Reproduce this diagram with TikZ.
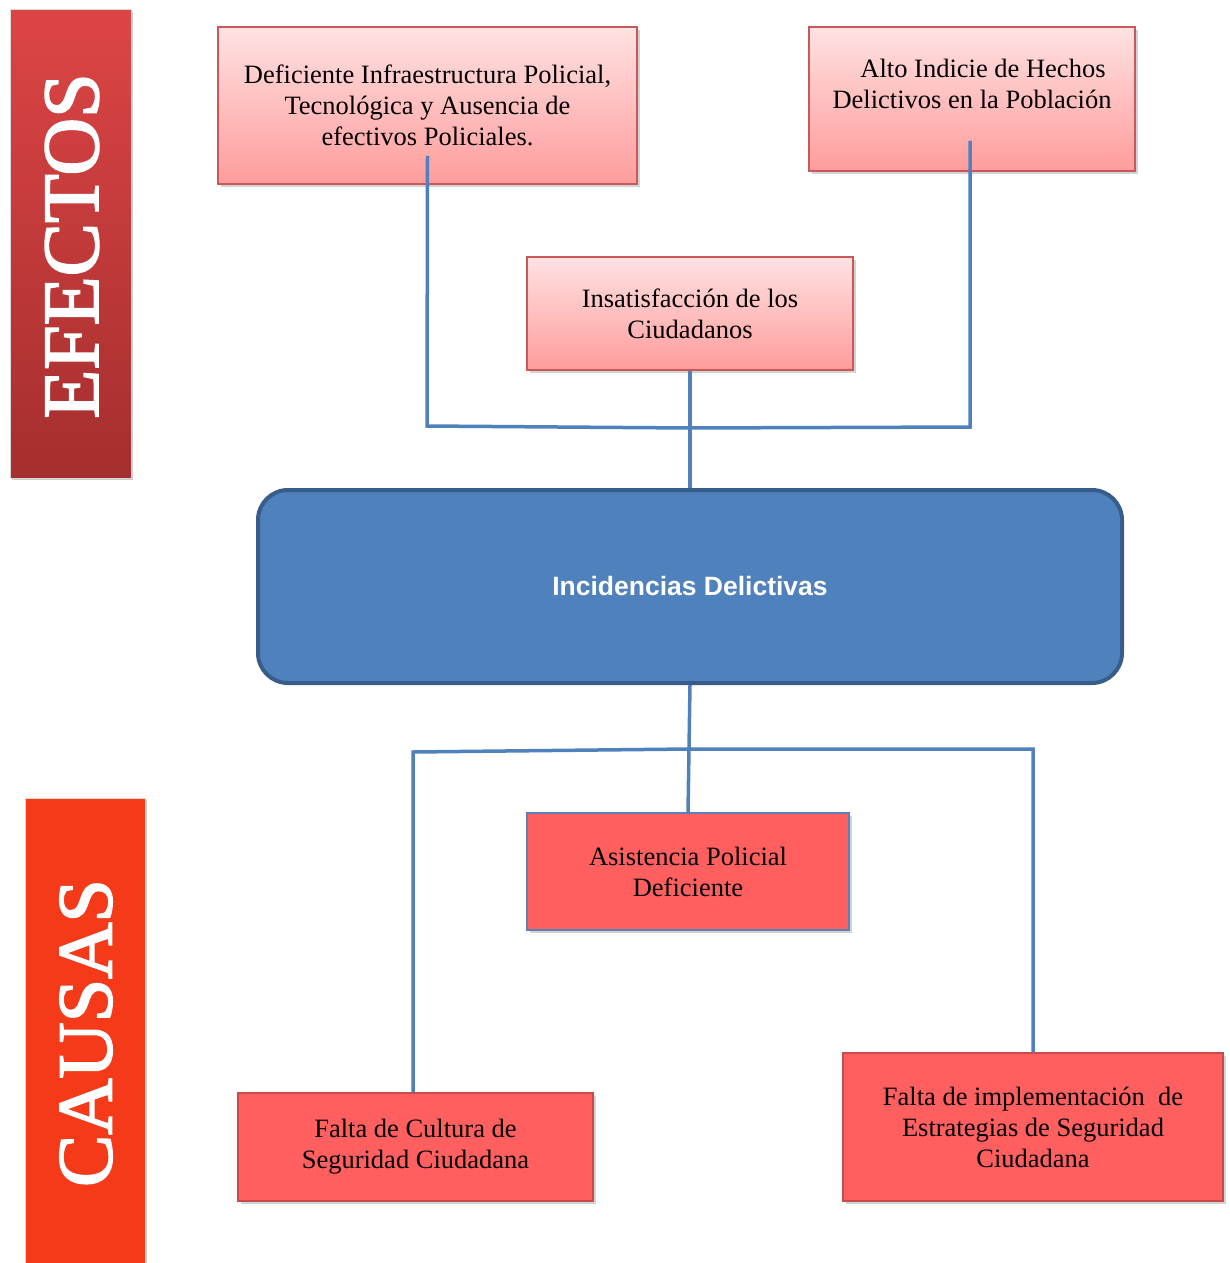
\documentclass[tikz,border=0pt]{standalone}
\usepackage{fontspec}
\setmainfont{Liberation Serif}
\newfontfamily\arialf{Liberation Sans}
\newfontfamily\barfont[FakeBold=2.2]{Liberation Serif}
\usetikzlibrary{shadows,calc}
\definecolor{lnblue}{HTML}{4F81BD}
\definecolor{mainborder}{HTML}{385D8A}
\definecolor{pinktop}{HTML}{FFE2E2}
\definecolor{pinkbot}{HTML}{FF9C9C}
\definecolor{pinkborder}{HTML}{C9585A}
\definecolor{redfill}{HTML}{FF5F5F}
\definecolor{redborder}{HTML}{C64C4C}
\definecolor{efectop}{HTML}{DD4545}
\definecolor{efecbot}{HTML}{A52E2E}
\definecolor{causafill}{HTML}{F43A18}
\tikzset{
  conn/.style={draw=lnblue, line width=3.5pt},
  efbox/.style={rectangle, draw=pinkborder, line width=1.5pt, top color=pinktop, bottom color=pinkbot,
    align=center, font=\fontsize{26.5}{31}\selectfont, inner sep=0pt,
    drop shadow={shadow xshift=3pt, shadow yshift=-3pt, opacity=0.35}},
  cabox/.style={rectangle, draw=redborder, line width=1.5pt, fill=redfill,
    align=center, font=\fontsize{26.5}{31}\selectfont, inner sep=0pt,
    drop shadow={shadow xshift=3pt, shadow yshift=-3pt, opacity=0.35}},
  barbox/.style={rectangle, inner sep=0pt, draw=white!70!gray, line width=1pt,
    drop shadow={shadow xshift=2pt, shadow yshift=-2pt, opacity=0.4}},
  bartext/.style={rotate=90, text=white, font=\barfont\fontsize{80}{80}\selectfont, inner sep=0pt}
}
\begin{document}
\begin{tikzpicture}[x=1pt,y=-1pt]
\useasboundingbox (0,0) rectangle (1229,1263);
% side bars
\node[barbox, top color=efectop, bottom color=efecbot, minimum width=121pt, minimum height=468pt] (efbar) at (70.5,244) {};
\node[bartext] (eftext) at (72,246) {EFECTOS};
\node[barbox, fill=causafill, minimum width=120pt, minimum height=470pt] (cabar) at (85,1033) {};
\node[bartext, font=\barfont\fontsize{78}{78}\selectfont] (catext) at (86,1033) {CAUSAS};
% effect boxes
\node[efbox, minimum width=419pt, minimum height=157pt] (b1) at (427.5,105.5)
  {Deficiente Infraestructura Policial,\\Tecnológica y Ausencia de\\efectivos Policiales.};
\node[efbox, minimum width=326pt, minimum height=144pt] (b2) at (972,99) {};
\node[align=center, font=\fontsize{26.5}{31}\selectfont, inner sep=0pt] (t2) at (972,84)
  {\hspace*{22pt}Alto Indicie de Hechos\\Delictivos en la Población};
\node[efbox, minimum width=326pt, minimum height=113pt] (b3) at (690,313.5)
  {Insatisfacción de los\\Ciudadanos};
% main box
\node[rectangle, rounded corners=30pt, fill=lnblue, draw=mainborder, line width=4pt,
  minimum width=864pt, minimum height=193pt, text=white,
  font=\arialf\bfseries\fontsize{26.5}{30}\selectfont] (main) at (690,586.5) {Incidencias Delictivas};
% cause boxes
\node[cabox, draw=lnblue!80!gray, minimum width=322pt, minimum height=117pt] (b4) at (688,871.5)
  {Asistencia Policial\\Deficiente};
\node[cabox, minimum width=355pt, minimum height=108pt] (b5) at (415.5,1147)
  {Falta de Cultura de\\Seguridad Ciudadana};
\node[cabox, minimum width=380pt, minimum height=148pt] (b6) at (1033,1127)
  {Falta de implementación~ de\\Estrategias de Seguridad\\Ciudadana};
% upper connectors
\coordinate (j1) at (427,426);
\coordinate (j2) at (689,428);
\coordinate (j3) at (970,427);
\draw[conn] ([yshift=29pt]b1.south) -- (j1) -- (j2) -- (j3) -- ([xshift=-2pt,yshift=31pt]b2.south);
\draw[conn] (b3.south) -- (main.north);
% lower connectors
\coordinate (k1) at (413,752);
\coordinate (k2) at (689,749);
\coordinate (k3) at (1033,749);
\draw[conn] (main.south) -- (b4.north);
\draw[conn] (k1 |- b5.north) -- (k1) -- (k2) -- (k3) -- (b6.north);
\end{tikzpicture}
\end{document}
